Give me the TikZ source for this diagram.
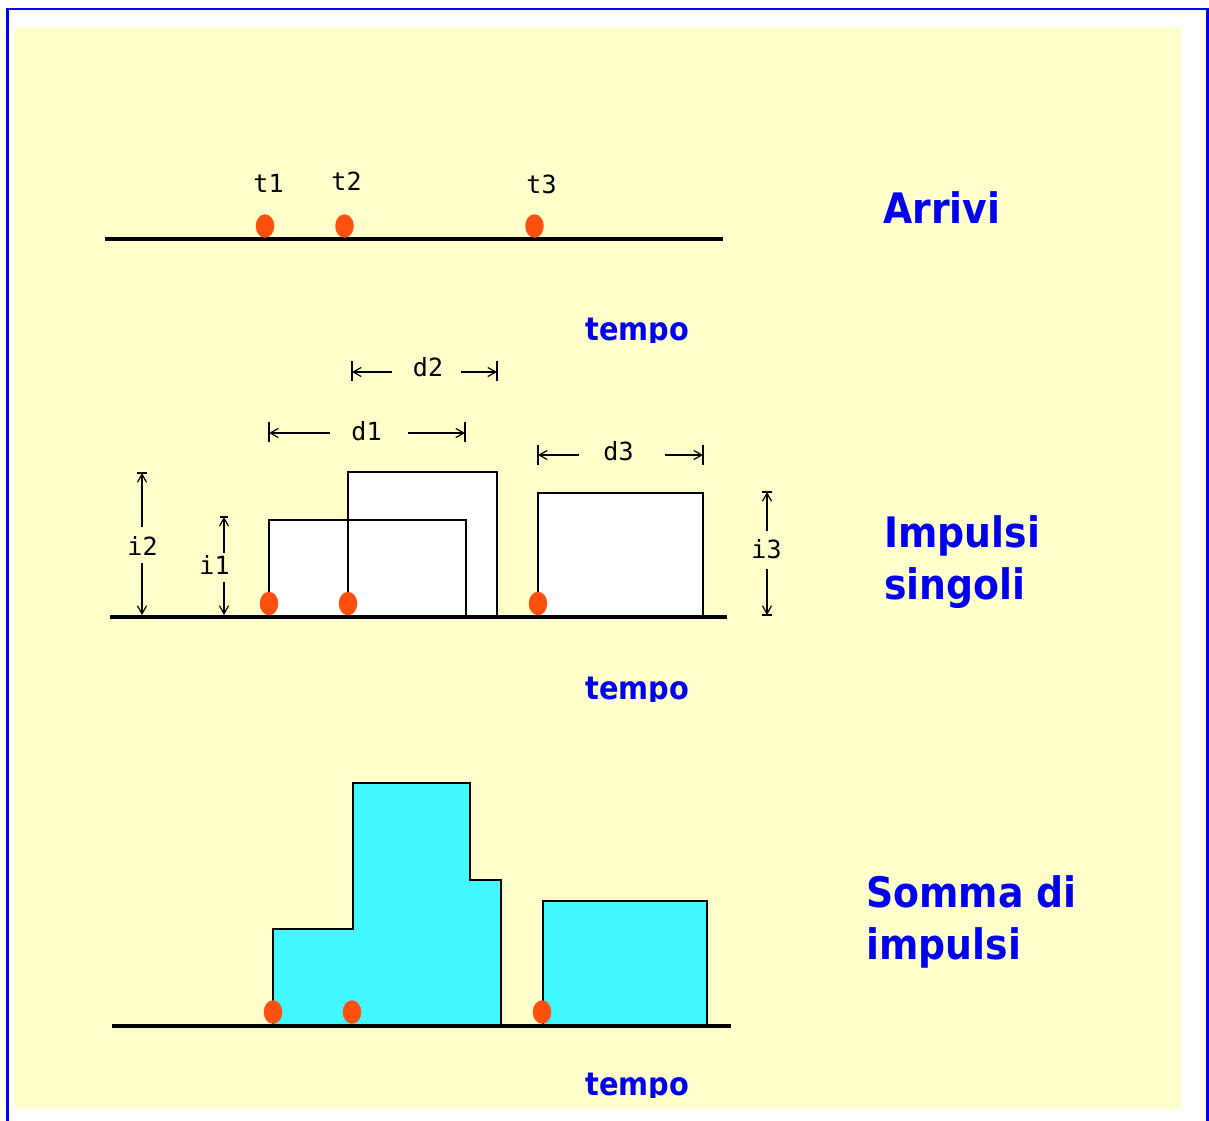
\documentclass[tikz,border=0pt]{standalone}
\usepackage{fontspec}
\usetikzlibrary{arrows.meta,shapes.geometric}
\newfontfamily\titlefam{DejaVu Sans}[FakeStretch=0.9]
\newfontfamily\monofam{DejaVu Sans Mono}
\definecolor{bgyellow}{HTML}{FFFFCC}
\definecolor{framblue}{HTML}{0000FF}
\definecolor{titleblue}{HTML}{0000F0}
\definecolor{dotorange}{HTML}{FF5010}
\definecolor{sumcyan}{HTML}{40F8FF}
\tikzset{
  axisline/.style={line width=4pt, black},
  dot/.style={ellipse, fill=dotorange, minimum width=18.5pt, minimum height=23.5pt, inner sep=0pt},
  pulsefill/.style={fill=white},
  pulseline/.style={draw=black, line width=1.3pt},
  sumshape/.style={fill=sumcyan, draw=black, line width=1.3pt},
  tlabel/.style={font=\monofam\fontsize{25}{28}\selectfont, inner sep=0pt},
  dimarrow/.style={line width=1.2pt, -{Straight Barb[length=8pt,width=9pt]}},
  dimbar/.style={line width=1.5pt},
  tbar/.style={line width=2.2pt},
  title/.style={font=\titlefam\bfseries\fontsize{42}{52}\selectfont, text=titleblue, align=left, inner sep=0pt},
  tempolab/.style={font=\titlefam\bfseries\fontsize{32}{36}\selectfont, text=titleblue, inner sep=0pt},
}
\begin{document}
\begin{tikzpicture}[x=1pt,y=-1pt]
\useasboundingbox (0,0) rectangle (1209,1120);
\fill[white] (0,0) rectangle (1209,1120);
\fill[bgyellow] (14,27) rectangle (1181,1109);
\draw[framblue, line width=2.6pt] (7.5,1121) -- (7.5,9) -- (1207.5,9) -- (1207.5,1121);

% ---------- Arrivi ----------
\coordinate (ax1l) at (105,239);
\coordinate (ax1r) at (723,239);
\draw[axisline] (ax1l) -- (ax1r);
\node[dot] (a1) at (265,226) {};
\node[dot] (a2) at (344.5,226) {};
\node[dot] (a3) at (534.5,226) {};
\node[tlabel, anchor=base] (t1) at (268.5,192) {t1};
\node[tlabel, anchor=base] (t2) at (346.5,190) {t2};
\node[tlabel, anchor=base] (t3) at (541.5,193) {t3};
\begin{scope}
  \clip (560,300) rectangle (720,342);
  \node[tempolab, anchor=base] (tempo1) at (637.5,340) {tempo};
\end{scope}
\node[title, anchor=base west] (arrivi) at (883,223) {Arrivi};

% ---------- Impulsi singoli ----------
\fill[pulsefill] (348,617) rectangle (497,472);
\fill[pulsefill] (269,617) rectangle (466,520);
\fill[pulsefill] (538,617) rectangle (703,493);
\draw[pulseline] (348,617) -- (348,472) -- (497,472) -- (497,617);
\draw[pulseline] (269,617) -- (269,520) -- (466,520) -- (466,617);
\draw[pulseline] (538,617) -- (538,493) -- (703,493) -- (703,617);
\coordinate (ax2l) at (110,617);
\coordinate (ax2r) at (727,617);
\draw[axisline] (ax2l) -- (ax2r);
\node[dot] (b1) at (269,603.5) {};
\node[dot] (b2) at (348,603.5) {};
\node[dot] (b3) at (538,603.5) {};

% d2
\node[tlabel, anchor=base] (d2) at (428,376) {d2};
\coordinate (d2L) at (352,372); \coordinate (d2R) at (497,372);
\coordinate (d2a) at (392,372); \coordinate (d2b) at (461,372);
\draw[dimbar] (352,361) -- (352,381);
\draw[dimbar] (497,361) -- (497,381);
\draw[dimarrow] (d2a) -- (d2L);
\draw[dimarrow] (d2b) -- (d2R);
% d1
\node[tlabel, anchor=base] (d1) at (366.5,440) {d1};
\coordinate (d1L) at (269,433); \coordinate (d1R) at (465,433);
\coordinate (d1a) at (330,433); \coordinate (d1b) at (408,433);
\draw[dimbar] (269,422) -- (269,442);
\draw[dimbar] (465,422) -- (465,442);
\draw[dimarrow] (d1a) -- (d1L);
\draw[dimarrow] (d1b) -- (d1R);
% d3
\node[tlabel, anchor=base] (d3) at (618.5,460) {d3};
\coordinate (d3L) at (538,455); \coordinate (d3R) at (703,455);
\coordinate (d3a) at (579,455); \coordinate (d3b) at (665,455);
\draw[dimbar] (538,445) -- (538,465);
\draw[dimbar] (703,445) -- (703,465);
\draw[dimarrow] (d3a) -- (d3L);
\draw[dimarrow] (d3b) -- (d3R);
% i2
\node[tlabel, anchor=base] (i2) at (142.5,555) {i2};
\coordinate (i2T) at (142,473); \coordinate (i2B) at (142,615);
\coordinate (i2a) at (142,527); \coordinate (i2b) at (142,563);
\draw[tbar] (137,473) -- (147,473);
\draw[dimarrow] (i2a) -- (i2T);
\draw[dimarrow] (i2b) -- (i2B);
% i1
\node[tlabel, anchor=base] (i1) at (214.5,574) {i1};
\coordinate (i1T) at (224,517); \coordinate (i1B) at (224,615);
\coordinate (i1a) at (224,553); \coordinate (i1b) at (224,582);
\draw[tbar] (220,517) -- (228,517);
\draw[dimarrow] (i1a) -- (i1T);
\draw[dimarrow] (i1b) -- (i1B);
% i3
\node[tlabel, anchor=base] (i3) at (766.5,558) {i3};
\coordinate (i3T) at (767,492); \coordinate (i3B) at (767,615);
\coordinate (i3a) at (767,531); \coordinate (i3b) at (767,569);
\draw[tbar] (762,492) -- (772,492);
\draw[tbar] (762,615) -- (772,615);
\draw[dimarrow] (i3a) -- (i3T);
\draw[dimarrow] (i3b) -- (i3B);

\begin{scope}
  \clip (560,650) rectangle (720,701);
  \node[tempolab, anchor=base] (tempo2) at (637.5,699) {tempo};
\end{scope}
\node[title, anchor=north west] (impulsi) at (884,515) {Impulsi\\singoli};

% ---------- Somma di impulsi ----------
\draw[sumshape] (273,1025) -- (273,929) -- (353,929) -- (353,783) -- (470,783)
  -- (470,880) -- (501,880) -- (501,1025) -- cycle;
\draw[sumshape] (543,1025) -- (543,901) -- (707,901) -- (707,1025) -- cycle;
\coordinate (ax3l) at (112,1025.5);
\coordinate (ax3r) at (731,1025.5);
\draw[axisline] (ax3l) -- (ax3r);
\node[dot] (c1) at (273,1012) {};
\node[dot] (c2) at (352,1012) {};
\node[dot] (c3) at (542,1012) {};
\begin{scope}
  \clip (560,1050) rectangle (720,1097);
  \node[tempolab, anchor=base] (tempo3) at (637.5,1095) {tempo};
\end{scope}
\node[title, anchor=north west] (somma) at (866,875) {Somma di\\impulsi};
\end{tikzpicture}
\end{document}
